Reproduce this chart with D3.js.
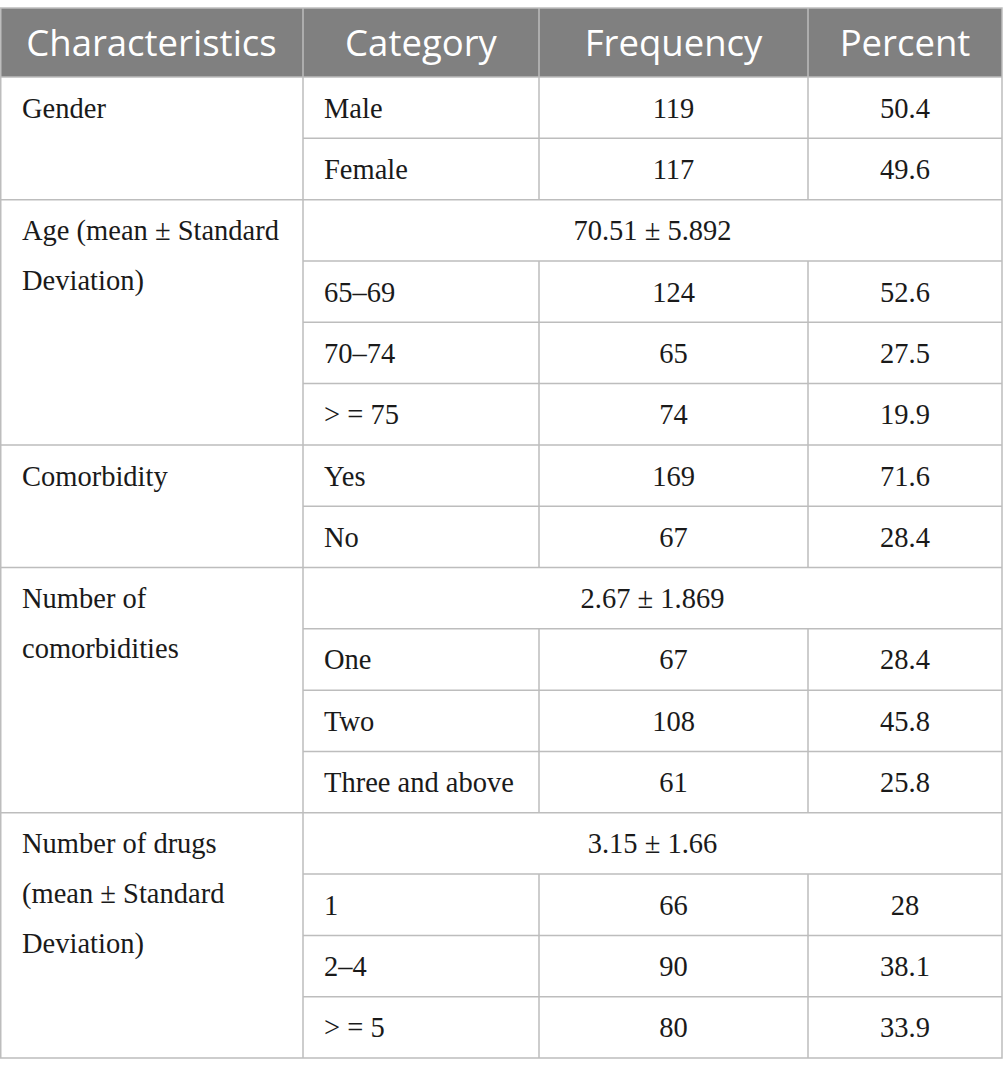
<!DOCTYPE html>
<html>
<head>
<meta charset="utf-8">
<script src="https://cdn.jsdelivr.net/npm/d3@7"></script>
<style>
  body { margin: 0; background: #fff; }
</style>
</head>
<body>
<div id="table"></div>
<script>
// table content
const headers = ["Characteristics", "Category", "Frequency", "Percent"];

// characteristic groups: label lines, first row, number of rows spanned
const groups = [
  { lines: ["Gender"], start: 0, span: 2 },
  { lines: ["Age (mean \u00b1 Standard", "Deviation)"], start: 2, span: 4 },
  { lines: ["Comorbidity"], start: 6, span: 2 },
  { lines: ["Number of", "comorbidities"], start: 8, span: 4 },
  { lines: ["Number of drugs", "(mean \u00b1 Standard", "Deviation)"], start: 12, span: 4 }
];

// summary rows (mean ± SD) spanning category/frequency/percent
const summaryRows = [2, 8, 12];
const summaryText = ["70.51 \u00b1 5.892", "2.67 \u00b1 1.869", "3.15 \u00b1 1.66"];

const categories = ["Male", "Female", null, "65\u201369", "70\u201374", "> = 75", "Yes", "No",
                    null, "One", "Two", "Three and above", null, "1", "2\u20134", "> = 5"];
const frequency = [119, 117, null, 124, 65, 74, 169, 67, null, 67, 108, 61, null, 66, 90, 80];
const percent = ["50.4", "49.6", null, "52.6", "27.5", "19.9", "71.6", "28.4", null,
                 "28.4", "45.8", "25.8", null, "28", "38.1", "33.9"];

const W = 1004, H = 1077;
const colEdges = [0, 303, 539, 808, 1002];
const tableTop = 8, headerBottom = 77, tableBottom = 1058;
const nRows = categories.length;

const svg = d3.select("#table").append("svg")
    .attr("width", W)
    .attr("height", H);

const y = d3.scaleLinear().domain([0, nRows]).range([headerBottom, tableBottom]);
const rowH = y(1) - y(0);
const colMid = i => (colEdges[i] + colEdges[i + 1]) / 2;

const gridColor = "#bdbdbd";
const serif = "'Liberation Serif', 'DejaVu Serif', serif";

// header
svg.append("rect")
    .attr("x", colEdges[0]).attr("y", tableTop)
    .attr("width", colEdges[4] - colEdges[0]).attr("height", headerBottom - tableTop)
    .attr("fill", "#808080");

svg.selectAll("text.head")
    .data(headers)
    .enter().append("text")
    .attr("class", "head")
    .attr("x", (d, i) => colMid(i))
    .attr("y", (tableTop + headerBottom) / 2)
    .attr("dy", "0.36em")
    .attr("text-anchor", "middle")
    .attr("fill", "#fff")
    .attr("font-family", "'Open Sans', sans-serif")
    .attr("font-size", 36.5)
    .text(d => d);

// grid lines
const grid = svg.append("g").attr("stroke", gridColor).attr("stroke-width", 1.5);

// outer border
grid.append("rect")
    .attr("x", colEdges[0] + 0.75).attr("y", tableTop)
    .attr("width", colEdges[4] - colEdges[0] - 0.75).attr("height", tableBottom - tableTop)
    .attr("fill", "none");

// vertical lines
colEdges.slice(1, 4).forEach((cx, i) => {
    if (i === 0) {
        grid.append("line").attr("x1", cx).attr("x2", cx).attr("y1", tableTop).attr("y2", tableBottom);
    } else {
        // header part
        grid.append("line").attr("x1", cx).attr("x2", cx).attr("y1", tableTop).attr("y2", headerBottom);
        // body part, skipping summary rows
        d3.range(nRows).filter(r => !summaryRows.includes(r)).forEach(r => {
            grid.append("line").attr("x1", cx).attr("x2", cx).attr("y1", y(r)).attr("y2", y(r + 1));
        });
    }
});

// horizontal lines
d3.range(1, nRows).forEach(r => {
    const groupBoundary = groups.some(g => g.start === r);
    grid.append("line")
        .attr("x1", groupBoundary ? colEdges[0] : colEdges[1])
        .attr("x2", colEdges[4])
        .attr("y1", y(r)).attr("y2", y(r));
});
grid.append("line").attr("x1", colEdges[0]).attr("x2", colEdges[4])
    .attr("y1", headerBottom).attr("y2", headerBottom);

const body = svg.append("g")
    .attr("font-family", serif)
    .attr("font-size", 28.5)
    .attr("fill", "#1a1a1a");

// characteristic labels
const lineH = 50;
groups.forEach(g => {
    const t = body.append("text")
        .attr("y", y(g.start) + rowH / 2);
    g.lines.forEach((ln, k) => {
        t.append("tspan")
            .attr("x", colEdges[0] + 22)
            .attr("dy", k === 0 ? "0.35em" : lineH)
            .text(ln);
    });
});

// category column
body.selectAll("text.cat")
    .data(categories.map((c, r) => ({ c, r })).filter(d => d.c !== null))
    .enter().append("text")
    .attr("class", "cat")
    .attr("x", colEdges[1] + 21)
    .attr("y", d => y(d.r) + rowH / 2)
    .attr("dy", "0.35em")
    .text(d => d.c);

// frequency column
body.selectAll("text.freq")
    .data(frequency.map((v, r) => ({ v, r })).filter(d => d.v !== null))
    .enter().append("text")
    .attr("class", "freq")
    .attr("x", colMid(2))
    .attr("y", d => y(d.r) + rowH / 2)
    .attr("dy", "0.35em")
    .attr("text-anchor", "middle")
    .text(d => d.v);

// percent column
body.selectAll("text.pct")
    .data(percent.map((v, r) => ({ v, r })).filter(d => d.v !== null))
    .enter().append("text")
    .attr("class", "pct")
    .attr("x", colMid(3))
    .attr("y", d => y(d.r) + rowH / 2)
    .attr("dy", "0.35em")
    .attr("text-anchor", "middle")
    .text(d => d.v);

// summary rows
body.selectAll("text.sum")
    .data(summaryRows.map((r, i) => ({ r, t: summaryText[i] })))
    .enter().append("text")
    .attr("class", "sum")
    .attr("x", (colEdges[1] + colEdges[4]) / 2)
    .attr("y", d => y(d.r) + rowH / 2)
    .attr("dy", "0.35em")
    .attr("text-anchor", "middle")
    .text(d => d.t);
</script>
</body>
</html>
